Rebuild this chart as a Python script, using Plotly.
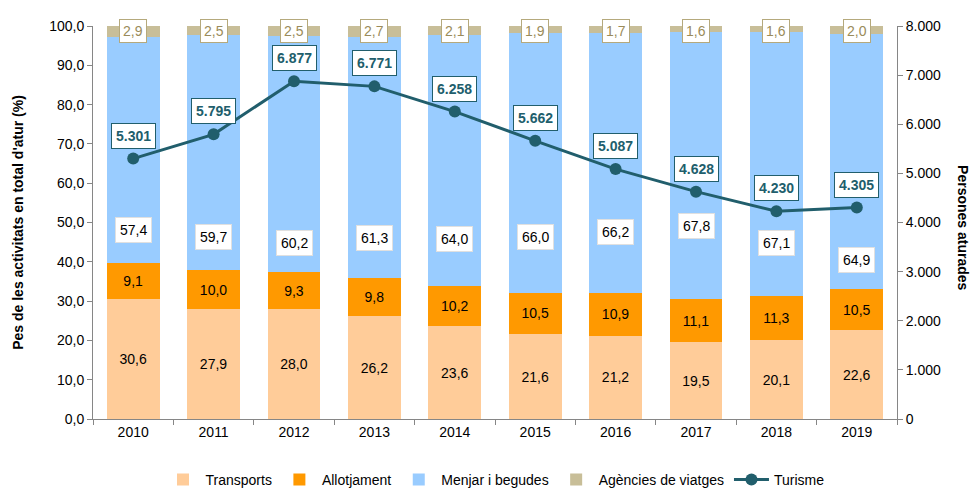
import plotly.graph_objects as go

years = ["2010", "2011", "2012", "2013", "2014", "2015", "2016", "2017", "2018", "2019"]
transports = [30.6, 27.9, 28.0, 26.2, 23.6, 21.6, 21.2, 19.5, 20.1, 22.6]
allotjament = [9.1, 10.0, 9.3, 9.8, 10.2, 10.5, 10.9, 11.1, 11.3, 10.5]
menjar = [57.4, 59.7, 60.2, 61.3, 64.0, 66.0, 66.2, 67.8, 67.1, 64.9]
agencies = [2.9, 2.5, 2.5, 2.7, 2.1, 1.9, 1.7, 1.6, 1.6, 2.0]
turisme = [5301, 5795, 6877, 6771, 6258, 5662, 5087, 4628, 4230, 4305]
menjar_label_y = [48.1, 46.4, 44.7, 46.0, 45.8, 46.4, 47.7, 49.1, 44.9, 40.5]

FONT = "Liberation Sans, Arial, sans-serif"
C_TR = "#FFCC99"
C_AL = "#FF9900"
C_ME = "#99CCFF"
C_AG = "#C8BE98"
C_TU = "#215E6C"
AXIS = "#868686"


def dec(v):
    return f"{v:.1f}".replace(".", ",")


def thou(v):
    return f"{v:,}".replace(",", ".")


fig = go.Figure()
fig.add_trace(go.Bar(
    x=years, y=transports, name="Transports", marker=dict(color=C_TR, line=dict(width=0)),
    text=[dec(v) for v in transports], textposition="inside", insidetextanchor="middle",
    textangle=0, textfont=dict(color="black", size=14, family=FONT), hoverinfo="skip"))
fig.add_trace(go.Bar(
    x=years, y=allotjament, name="Allotjament", marker=dict(color=C_AL, line=dict(width=0)),
    text=[dec(v) for v in allotjament], textposition="inside", insidetextanchor="middle",
    textangle=0, textfont=dict(color="black", size=14, family=FONT), hoverinfo="skip"))
fig.add_trace(go.Bar(
    x=years, y=menjar, name="Menjar i begudes", marker=dict(color=C_ME, line=dict(width=0)),
    hoverinfo="skip"))
fig.add_trace(go.Bar(
    x=years, y=agencies, name="Agències de viatges", marker=dict(color=C_AG, line=dict(width=0)),
    hoverinfo="skip"))
fig.add_trace(go.Scatter(
    x=years, y=turisme, name="Turisme", yaxis="y2", mode="lines+markers",
    line=dict(color=C_TU, width=3), marker=dict(color=C_TU, size=12)))

annotations = []
for i, yr in enumerate(years):
    annotations.append(dict(
        x=i, y=menjar_label_y[i], xref="x", yref="y", text=dec(menjar[i]), showarrow=False,
        font=dict(size=14, color="black", family=FONT), bgcolor="white",
        bordercolor="#E0E0E0", borderwidth=1, borderpad=4))
    annotations.append(dict(
        x=i, y=98.7, xref="x", yref="y", text=dec(agencies[i]), showarrow=False,
        font=dict(size=14, color="#9A8B5A", family=FONT), bgcolor="white",
        bordercolor="#B5A97C", borderwidth=1, borderpad=3))
    annotations.append(dict(
        x=i, y=turisme[i], xref="x", yref="y2", text=f"<b>{thou(turisme[i])}</b>", showarrow=False,
        yshift=23, font=dict(size=14, color=C_TU, family=FONT), bgcolor="white",
        bordercolor=C_TU, borderwidth=1, borderpad=4))

annotations.append(dict(
    x=1.082, y=0.486, xref="paper", yref="paper", text="<b>Persones aturades</b>",
    xanchor="center", yanchor="middle",
    showarrow=False, textangle=90, font=dict(size=14, color="black", family=FONT)))

fig.update_layout(
    width=976, height=489,
    barmode="stack", bargap=0.345,
    separators=",.",
    plot_bgcolor="white", paper_bgcolor="white",
    font=dict(family=FONT, size=14, color="black"),
    margin=dict(l=93, r=79, t=26, b=70, autoexpand=False),
    xaxis=dict(type="category", range=[-0.5, 9.5], autorange=False, showline=True,
               linecolor=AXIS, linewidth=1, automargin=False,
               ticks="outside", tickson="boundaries", ticklen=5, tickcolor=AXIS,
               tickfont=dict(size=14), showgrid=False),
    yaxis=dict(range=[0, 100], dtick=10, tickformat=".1f", showline=True, linecolor=AXIS,
               ticks="outside", ticklen=5, tickcolor=AXIS, showgrid=False, zeroline=False,
               tickfont=dict(size=14), automargin=False,
               title=dict(text="<b>Pes de les activitats en total d'atur (%)</b>",
                          font=dict(size=14), standoff=22)),
    yaxis2=dict(range=[0, 8000], dtick=1000, tickformat=",d", overlaying="y", side="right",
                showline=True, linecolor=AXIS, ticks="outside", ticklen=5, tickcolor=AXIS,
                showgrid=False, zeroline=False, tickfont=dict(size=14), automargin=False),
    legend=dict(orientation="h", x=0.5, xanchor="center", y=-0.155, yanchor="middle",
                font=dict(size=14), traceorder="normal", itemwidth=35),
    annotations=annotations,
    showlegend=True,
)

fig.write_html("out.html", config={"displayModeBar": False},
               post_script="document.body.style.margin='0';")
